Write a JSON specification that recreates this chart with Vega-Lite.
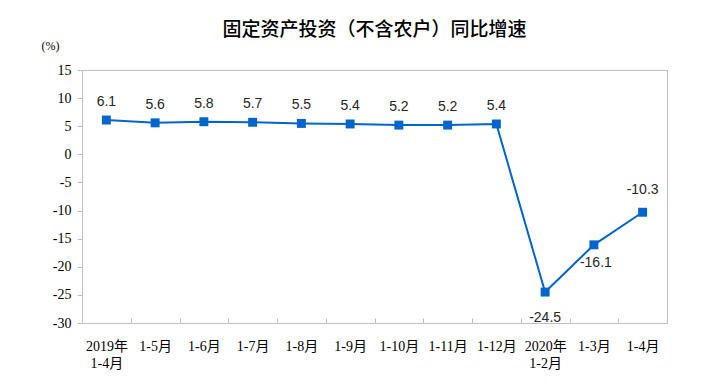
{
  "$schema": "https://vega.github.io/schema/vega-lite/v6.json",
  "width": 585,
  "height": 253,
  "autosize": {"type": "none"},
  "padding": {"left": 82, "top": 70, "right": 45, "bottom": 68},
  "background": "white",
  "title": {
    "text": "固定资产投资（不含农户）同比增速",
    "font": "Noto Sans CJK SC",
    "fontSize": 19,
    "fontWeight": 500,
    "color": "#000000",
    "anchor": "middle",
    "offset": -1
  },
  "config": {"view": {"stroke": "#BFBFBF", "strokeWidth": 1}},
  "data": {
    "values": [
      {"period": "2019年|1-4月", "value": 6.1},
      {"period": "1-5月", "value": 5.6},
      {"period": "1-6月", "value": 5.8},
      {"period": "1-7月", "value": 5.7},
      {"period": "1-8月", "value": 5.5},
      {"period": "1-9月", "value": 5.4},
      {"period": "1-10月", "value": 5.2},
      {"period": "1-11月", "value": 5.2},
      {"period": "1-12月", "value": 5.4},
      {"period": "2020年|1-2月", "value": -24.5},
      {"period": "1-3月", "value": -16.1},
      {"period": "1-4月 ", "value": -10.3}
    ]
  },
  "encoding": {
    "x": {
      "field": "period",
      "type": "nominal",
      "sort": null,
      "scale": {"type": "band", "paddingInner": 0, "paddingOuter": 0},
      "axis": {
        "title": null,
        "labelAngle": 0,
        "labelExpr": "datum.value ? split(datum.value, '|') : ''",
        "labelFont": "Liberation Serif, Noto Sans CJK SC",
        "labelFontSize": 14,
        "labelColor": "#000000",
        "labelLineHeight": 17,
        "labelPadding": 21,
        "tickBand": "extent",
        "tickSize": -5,
        "tickColor": "#BFBFBF",
        "domainColor": "#BFBFBF",
        "grid": false
      }
    },
    "y": {
      "field": "value",
      "type": "quantitative",
      "scale": {"domain": [-30, 15], "nice": false},
      "axis": {
        "values": [-30, -25, -20, -15, -10, -5, 0, 5, 10, 15],
        "labelExpr": "'' + datum.value",
        "title": "(%)",
        "titleAngle": 0,
        "titleX": -32,
        "titleY": -25,
        "titleAlign": "center",
        "titleBaseline": "middle",
        "titleFont": "Liberation Serif, Noto Sans CJK SC",
        "titleFontSize": 12,
        "titleFontWeight": "normal",
        "titleColor": "#000000",
        "labelFont": "Liberation Serif",
        "labelFontSize": 14,
        "labelColor": "#000000",
        "labelPadding": 6,
        "tickSize": 5,
        "tickColor": "#BFBFBF",
        "domainColor": "#BFBFBF",
        "grid": false
      }
    }
  },
  "layer": [
    {"mark": {"type": "line", "color": "#0066CC", "strokeWidth": 2}},
    {"mark": {"type": "point", "shape": "square", "filled": true, "color": "#0066CC", "size": 80, "opacity": 1}},
    {
      "transform": [{"filter": "datum.value > 0"}],
      "mark": {"type": "text", "dy": -18, "font": "Liberation Sans", "fontSize": 14, "color": "#262626"},
      "encoding": {"text": {"field": "value", "type": "nominal"}}
    },
    {
      "transform": [{"filter": "datum.value < 0 && datum.value > -12"}],
      "mark": {"type": "text", "dy": -22, "font": "Liberation Sans", "fontSize": 14, "color": "#262626"},
      "encoding": {"text": {"field": "value", "type": "nominal"}}
    },
    {
      "transform": [{"filter": "datum.value < -12 && datum.value > -20"}],
      "mark": {"type": "text", "dy": 18, "dx": 2, "font": "Liberation Sans", "fontSize": 14, "color": "#262626"},
      "encoding": {"text": {"field": "value", "type": "nominal"}}
    },
    {
      "transform": [{"filter": "datum.value < -20"}],
      "mark": {"type": "text", "dy": 26, "font": "Liberation Sans", "fontSize": 14, "color": "#262626"},
      "encoding": {"text": {"field": "value", "type": "nominal"}}
    }
  ]
}
